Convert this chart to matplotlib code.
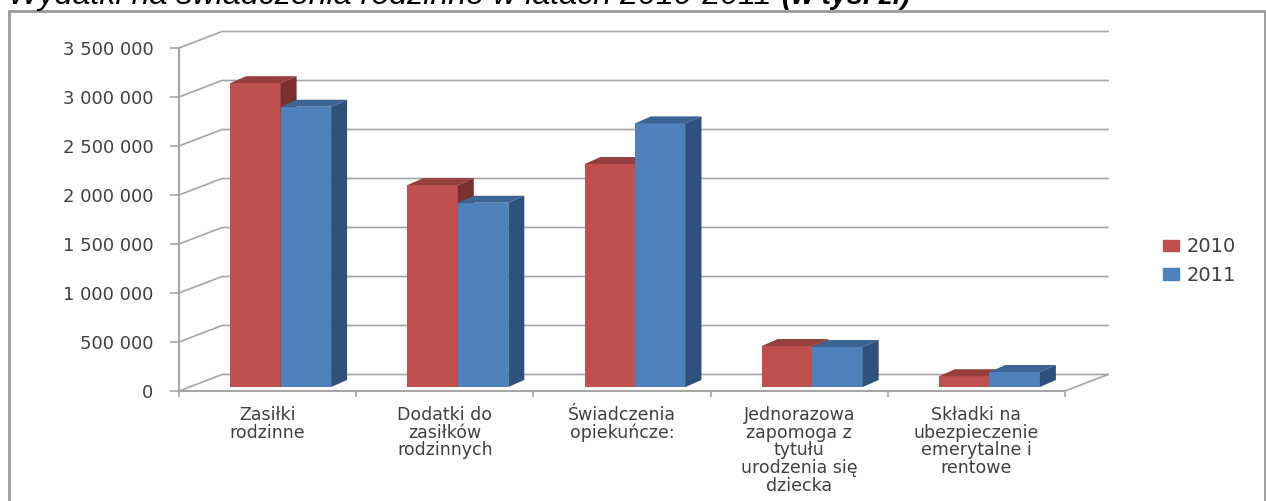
import matplotlib
matplotlib.use('Agg')
import matplotlib.pyplot as plt
from matplotlib.patches import Polygon, Patch, Rectangle

W, H = 1266, 501

categories = ['Zasiłki\nrodzinne', 'Dodatki do\nzasiłków\nrodzinnych', 'Świadczenia\nopiekuńcze:',
              'Jednorazowa\nzapomoga z\ntytułu\nurodzenia się\ndziecka',
              'Składki na\nubezpieczenie\nemerytalne i\nrentowe']
values_2010 = [3100000, 2060000, 2275000, 418000, 110000]
values_2011 = [2860000, 1880000, 2690000, 408000, 153000]
y_ticks = [0, 500000, 1000000, 1500000, 2000000, 2500000, 3000000, 3500000]
y_labels = ['0', '500 000', '1 000 000', '1 500 000', '2 000 000', '2 500 000', '3 000 000', '3 500 000']

red, red_top, red_side = '#C0504D', '#96403D', '#7B302E'
blue, blue_top, blue_side = '#4F81BD', '#3C6494', '#2F527C'
grid = '#A6A6A6'
text_col = '#404040'

fig = plt.figure(figsize=(W / 100, H / 100), dpi=100)
ax = fig.add_axes([179 / W, 1 - 391 / H, 886 / W, 343 / H])
ax.set_xlim(0, 5)
ax.set_ylim(0, 3500000)

# pseudo 3d depth in data units
wall_dx, wall_dy = 43 / 177.2, 16.5 / 343 * 3500000
bar_dx, bar_dy = 16 / 177.2, 7 / 343 * 3500000
base_dx, base_dy = 13 / 177.2, 4 / 343 * 3500000
bar_w = 50.5 / 177.2

# walls
for t in y_ticks:
    ax.plot([0, wall_dx, 5 + wall_dx], [t, t + wall_dy, t + wall_dy], color=grid, lw=1.2, clip_on=False, zorder=1)
ax.plot([5, 5 + wall_dx], [0, wall_dy], color=grid, lw=1.2, clip_on=False, zorder=1)

def draw_bar(left, val, front, top, side):
    base = base_dy
    ax.bar(left, val, width=bar_w, bottom=base, align='edge', color=front, zorder=3, clip_on=False)
    right = left + bar_w
    up = base + val
    ax.add_patch(Polygon([(left, up), (right, up), (right + bar_dx, up + bar_dy), (left + bar_dx, up + bar_dy)],
                         color=top, lw=0, zorder=3, clip_on=False))
    ax.add_patch(Polygon([(right, base), (right, up), (right + bar_dx, up + bar_dy), (right + bar_dx, base + bar_dy)],
                         color=side, lw=0, zorder=3, clip_on=False))

for i in range(len(categories)):
    c = i + 0.5 + base_dx
    draw_bar(c - bar_w, values_2010[i], red, red_top, red_side)
    draw_bar(c, values_2011[i], blue, blue_top, blue_side)

for s in ['top', 'right']:
    ax.spines[s].set_visible(False)
for s in ['left', 'bottom']:
    ax.spines[s].set_color(grid)
    ax.spines[s].set_linewidth(1.5)
ax.patch.set_alpha(0)

ax.set_yticks(y_ticks)
ax.set_yticklabels(y_labels, fontsize=13, color=text_col)
ax.tick_params(axis='y', length=6.5, width=1.2, color=grid, pad=12)
ax.set_xticks(range(6))
ax.set_xticklabels([])
ax.tick_params(axis='x', length=4, width=1.2, color=grid)
ax.set_xticks([i + 0.5 for i in range(5)], minor=True)
ax.set_xticklabels(categories, minor=True, fontsize=12.5, color=text_col, linespacing=0.97)
ax.tick_params(axis='x', which='minor', length=0, pad=11)

# legend
handles = [Patch(color=red, label='2010'), Patch(color=blue, label='2011')]
fig.legend(handles=handles, loc='center left', bbox_to_anchor=(1145 / W, 1 - 261 / H), frameon=False,
           fontsize=14, labelcolor=text_col, handlelength=0.85, handleheight=0.5, handletextpad=0.4,
           labelspacing=0.5)

# outer frame runs off the bottom of the picture
fig.add_artist(Rectangle((9 / W, -0.05), 1256 / W, 1.05 - 11 / H, transform=fig.transFigure,
                         fill=False, ec='#9A9A9A', lw=2))

# title is cut by the top edge in the source image
fig.text(8 / W, 1 - 4 / H, 'Wydatki na świadczenia rodzinne w latach 2010-2011',
         family='Liberation Sans', style='italic', fontsize=23.2, color='black', va='baseline', ha='left')
fig.text(782 / W, 1 - 4 / H, '(w tys. zł)',
         family='Liberation Sans', style='italic', weight='bold', fontsize=20.5, color='black', va='baseline', ha='left')

fig.savefig('out.png', dpi=100)
